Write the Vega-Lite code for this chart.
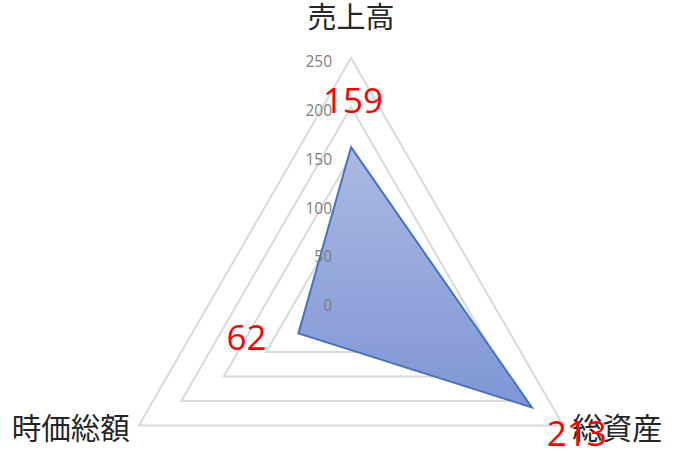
{
  "$schema": "https://vega.github.io/schema/vega-lite/v6.json",
  "width": 676,
  "height": 454,
  "autosize": {"type": "fit", "contains": "padding"},
  "padding": 0,
  "background": "white",
  "config": {"view": {"stroke": null}},
  "datasets": {
    "values": [
      {"k": "売上高", "v": 159},
      {"k": "総資産", "v": 213},
      {"k": "時価総額", "v": 62}
    ],
    "grid": [
      {"level": 50, "k": "売上高"}, {"level": 50, "k": "総資産"}, {"level": 50, "k": "時価総額"},
      {"level": 100, "k": "売上高"}, {"level": 100, "k": "総資産"}, {"level": 100, "k": "時価総額"},
      {"level": 150, "k": "売上高"}, {"level": 150, "k": "総資産"}, {"level": 150, "k": "時価総額"},
      {"level": 200, "k": "売上高"}, {"level": 200, "k": "総資産"}, {"level": 200, "k": "時価総額"},
      {"level": 250, "k": "売上高"}, {"level": 250, "k": "総資産"}, {"level": 250, "k": "時価総額"}
    ],
    "ticks": [
      {"t": 0}, {"t": 50}, {"t": 100}, {"t": 150}, {"t": 200}, {"t": 250}
    ]
  },
  "encoding": {
    "x": {"field": "x", "type": "quantitative", "axis": null,
          "scale": {"domain": [-358.2, 331.6], "nice": false, "zero": false}},
    "y": {"field": "y", "type": "quantitative", "axis": null,
          "scale": {"domain": [-154.1, 309.2], "nice": false, "zero": false}}
  },
  "layer": [
    {
      "data": {"name": "grid"},
      "transform": [
        {"calculate": "indexof(['売上高','総資産','時価総額'], datum.k)", "as": "i"},
        {"calculate": "(90 - 120 * datum.i) * PI / 180", "as": "a"},
        {"calculate": "datum.level * cos(datum.a)", "as": "x"},
        {"calculate": "datum.level * sin(datum.a)", "as": "y"}
      ],
      "mark": {"type": "line", "interpolate": "linear-closed", "stroke": "#d9d9d9", "strokeWidth": 2},
      "encoding": {
        "detail": {"field": "level", "type": "nominal"},
        "order": {"field": "i", "type": "quantitative"}
      }
    },
    {
      "data": {"name": "values"},
      "transform": [
        {"calculate": "indexof(['売上高','総資産','時価総額'], datum.k)", "as": "i"},
        {"calculate": "(90 - 120 * datum.i) * PI / 180", "as": "a"},
        {"calculate": "datum.v * cos(datum.a)", "as": "x"},
        {"calculate": "datum.v * sin(datum.a)", "as": "y"}
      ],
      "mark": {
        "type": "line",
        "interpolate": "linear-closed",
        "stroke": "#4472c4",
        "strokeWidth": 2,
        "fill": {
          "gradient": "linear",
          "x1": 0, "y1": 0, "x2": 0, "y2": 1,
          "stops": [
            {"offset": 0, "color": "#abb9e2"},
            {"offset": 1, "color": "#7f96d5"}
          ]
        },
        "fillOpacity": 1
      },
      "encoding": {
        "order": {"field": "i", "type": "quantitative"}
      }
    },
    {
      "data": {"name": "ticks"},
      "transform": [
        {"calculate": "0", "as": "x"},
        {"calculate": "datum.t", "as": "y"}
      ],
      "mark": {"type": "text", "align": "right", "baseline": "alphabetic", "dx": -19, "dy": 8.5,
               "font": "Open Sans", "fontSize": 15.5, "color": "#7f7f7f"},
      "encoding": {"text": {"field": "t", "type": "quantitative"}}
    },
    {
      "data": {"name": "grid"},
      "transform": [
        {"filter": "datum.level == 250 && datum.k == '売上高'"},
        {"calculate": "0", "as": "x"},
        {"calculate": "datum.level", "as": "y"}
      ],
      "mark": {"type": "text", "align": "center", "baseline": "middle", "dy": -39,
               "font": "Noto Sans CJK JP", "fontSize": 29, "color": "#262626"},
      "encoding": {"text": {"field": "k", "type": "nominal"}}
    },
    {
      "data": {"name": "grid"},
      "transform": [
        {"filter": "datum.level == 250 && datum.k == '総資産'"},
        {"calculate": "datum.level * cos(-30 * PI / 180)", "as": "x"},
        {"calculate": "datum.level * sin(-30 * PI / 180)", "as": "y"}
      ],
      "mark": {"type": "text", "align": "left", "baseline": "middle", "dx": 9, "dy": 5,
               "font": "Noto Sans CJK JP", "fontSize": 30, "color": "#262626"},
      "encoding": {"text": {"field": "k", "type": "nominal"}}
    },
    {
      "data": {"name": "grid"},
      "transform": [
        {"filter": "datum.level == 250 && datum.k == '時価総額'"},
        {"calculate": "datum.level * cos(210 * PI / 180)", "as": "x"},
        {"calculate": "datum.level * sin(210 * PI / 180)", "as": "y"}
      ],
      "mark": {"type": "text", "align": "right", "baseline": "middle", "dx": -9, "dy": 5,
               "font": "Noto Sans CJK JP", "fontSize": 29.5, "color": "#262626"},
      "encoding": {"text": {"field": "k", "type": "nominal"}}
    },
    {
      "data": {"name": "values"},
      "transform": [
        {"filter": "datum.k == '売上高'"},
        {"calculate": "0", "as": "x"},
        {"calculate": "datum.v", "as": "y"}
      ],
      "mark": {"type": "text", "align": "center", "baseline": "alphabetic", "dx": 2, "dy": -34,
               "font": "Open Sans", "fontSize": 35, "color": "#ff0000"},
      "encoding": {"text": {"field": "v", "type": "quantitative"}}
    },
    {
      "data": {"name": "values"},
      "transform": [
        {"filter": "datum.k == '総資産'"},
        {"calculate": "datum.v * cos(-30 * PI / 180)", "as": "x"},
        {"calculate": "datum.v * sin(-30 * PI / 180)", "as": "y"}
      ],
      "mark": {"type": "text", "align": "left", "baseline": "alphabetic", "dx": 15, "dy": 39,
               "font": "Open Sans", "fontSize": 35, "color": "#ff0000"},
      "encoding": {"text": {"field": "v", "type": "quantitative"}}
    },
    {
      "data": {"name": "values"},
      "transform": [
        {"filter": "datum.k == '時価総額'"},
        {"calculate": "datum.v * cos(210 * PI / 180)", "as": "x"},
        {"calculate": "datum.v * sin(210 * PI / 180)", "as": "y"}
      ],
      "mark": {"type": "text", "align": "right", "baseline": "alphabetic", "dx": -32, "dy": 17,
               "font": "Open Sans", "fontSize": 35, "color": "#ff0000"},
      "encoding": {"text": {"field": "v", "type": "quantitative"}}
    }
  ]
}
